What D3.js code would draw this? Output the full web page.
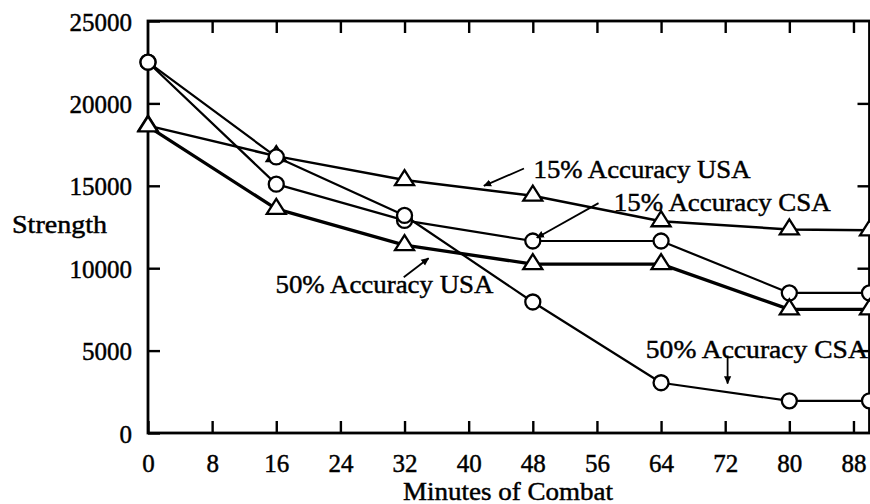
<!DOCTYPE html>
<html>
<head>
<meta charset="utf-8">
<script src="https://cdn.jsdelivr.net/npm/d3@7/dist/d3.min.js"></script>
<style>
    body { margin: 0; background: #fff; }
    svg text { font-family: "Liberation Serif", "DejaVu Serif", serif; fill: #000; stroke: #000; stroke-width: 0.45px; }
</style>
</head>
<body>
<div id="chart"></div>
<script>
"use strict";

// minutes of combat sampled by the model
const minutes = [0, 16, 32, 48, 64, 80, 90];

const usa15 = [18650, 16800, 15350, 14400, 12850, 12350, 12300];
const csa15 = [22500, 15100, 12900, 11650, 11650, 8500, 8500];
const usa50 = [18600, 13600, 11400, 10250, 10250, 7500, 7500];
const csa50 = [22500, 16750, 13200, 7950, 3050, 1950, 1950];

const xTicks = [0, 8, 16, 24, 32, 40, 48, 56, 64, 72, 80, 88];
const yTicks = [0, 5000, 10000, 15000, 20000, 25000];

const seriesNames = ["15% Accuracy USA", "15% Accuracy CSA", "50% Accuracy USA", "50% Accuracy CSA"];

const width = 870, height = 504;
const margin = {left: 148, top: 21, right: 0.5, bottom: 71};

const x = d3.scaleLinear().domain([0, 90]).range([margin.left, width - margin.right]);
const y = d3.scaleLinear().domain([0, 25000]).range([height - margin.bottom, margin.top]);

const series = [
    {name: seriesNames[0], values: usa15, symbol: "triangle", width: 2.5},
    {name: seriesNames[1], values: csa15, symbol: "circle", width: 2.2},
    {name: seriesNames[2], values: usa50, symbol: "triangle", width: 3.3},
    {name: seriesNames[3], values: csa50, symbol: "circle", width: 2.2}
];

// label placement, in data units
const notes = [
    {text: seriesNames[0], tx: 48.1, ty: 15500, len: 217, from: [46.9, 16050], to: [41.9, 15000]},
    {text: seriesNames[1], tx: 58.1, ty: 13500, len: 217, from: [56.2, 13950], to: [48.5, 11850]},
    {text: seriesNames[2], tx: 15.9, ty: 8470, len: 218, from: [31.9, 9450], to: [35.0, 10600]},
    {text: seriesNames[3], tx: 62.1, ty: 4540, len: 222, from: [72.3, 4700], to: [72.3, 3000]}
];

const svg = d3.select("#chart")
    .append("svg")
        .attr("width", width)
        .attr("height", height);

svg.append("defs").append("marker")
    .attr("id", "head")
    .attr("viewBox", "0 -5 10 10")
    .attr("refX", 9)
    .attr("refY", 0)
    .attr("markerWidth", 8)
    .attr("markerHeight", 8)
    .attr("markerUnits", "userSpaceOnUse")
    .attr("orient", "auto")
    .append("path")
        .attr("d", "M0,-4.5L10,0L0,4.5Z")
        .attr("fill", "#000");

// axes, ticks pointing inward
const axisB = svg.append("g")
    .attr("transform", `translate(0,${y(0)})`)
    .call(d3.axisBottom(x).tickValues(xTicks).tickSize(-12).tickPadding(21));
const axisT = svg.append("g")
    .attr("transform", `translate(0,${y(25000)})`)
    .call(d3.axisTop(x).tickValues(xTicks.slice(1)).tickSize(-12).tickFormat(""));
const axisL = svg.append("g")
    .attr("transform", `translate(${x(0)},0)`)
    .call(d3.axisLeft(y).tickValues(yTicks).tickSize(-12).tickPadding(16).tickFormat(d3.format("d")));
const axisR = svg.append("g")
    .attr("transform", `translate(${x(90)},0)`)
    .call(d3.axisRight(y).tickValues(yTicks.slice(1, -1)).tickSize(-12).tickFormat(""));

[axisB, axisT, axisL, axisR].forEach(g => {
    g.select(".domain").remove();
    g.selectAll(".tick line").attr("stroke", "#000").attr("stroke-width", 2.4);
    g.selectAll(".tick text").style("font-size", "25px").attr("fill", "#000");
});
axisL.selectAll(".tick text").attr("dy", "0.36em");

svg.append("rect")
    .attr("x", x(0))
    .attr("y", y(25000))
    .attr("width", x(90) - x(0))
    .attr("height", y(0) - y(25000))
    .attr("fill", "none")
    .attr("stroke", "#000")
    .attr("stroke-width", 2.8);

svg.append("text")
    .attr("x", 12)
    .attr("y", 233)
    .attr("textLength", 95)
    .attr("lengthAdjust", "spacingAndGlyphs")
    .style("font-size", "25px")
    .text("Strength");

svg.append("text")
    .attr("x", 403)
    .attr("y", 500)
    .attr("textLength", 210)
    .attr("lengthAdjust", "spacingAndGlyphs")
    .style("font-size", "25px")
    .text("Minutes of Combat");

const lineGenerator = d3.line()
    .x((d, i) => x(minutes[i]))
    .y(d => y(d));

svg.append("g")
    .selectAll("path")
    .data(series)
    .enter()
    .append("path")
        .attr("d", d => lineGenerator(d.values))
        .attr("fill", "none")
        .attr("stroke", "#000")
        .attr("stroke-width", d => d.width)
        .attr("stroke-linejoin", "round");

const triangle = "M0,-10L9.5,5L-9.5,5Z";

series.forEach(s => {
    const marks = svg.append("g")
        .selectAll("g")
        .data(s.values)
        .enter()
        .append("g")
            .attr("transform", (d, i) => `translate(${x(minutes[i])},${y(d)})`);
    if (s.symbol === "circle") {
        marks.append("circle")
            .attr("r", 7.5)
            .attr("fill", "#fff")
            .attr("stroke", "#000")
            .attr("stroke-width", 2.3);
    } else {
        marks.append("path")
            .attr("d", triangle)
            .attr("fill", "#fff")
            .attr("stroke", "#000")
            .attr("stroke-width", 2.3)
            .attr("stroke-linejoin", "miter");
    }
});

const noteGroup = svg.append("g");
notes.forEach(n => {
    noteGroup.append("line")
        .attr("x1", x(n.from[0]))
        .attr("y1", y(n.from[1]))
        .attr("x2", x(n.to[0]))
        .attr("y2", y(n.to[1]))
        .attr("stroke", "#000")
        .attr("stroke-width", 1.8)
        .attr("marker-end", "url(#head)");
    noteGroup.append("text")
        .attr("x", x(n.tx))
        .attr("y", y(n.ty))
        .attr("textLength", n.len)
        .attr("lengthAdjust", "spacingAndGlyphs")
        .style("font-size", "26px")
        .text(n.text);
});
</script>
</body>
</html>
